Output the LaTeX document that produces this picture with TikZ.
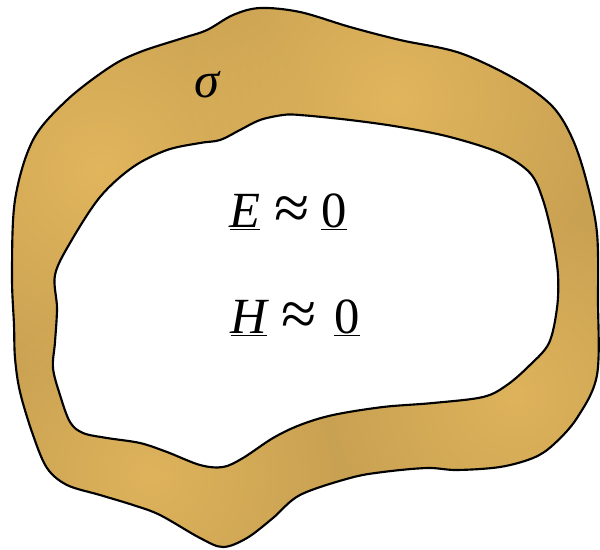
\documentclass[tikz,border=0pt]{standalone}
\usepackage{fontspec}
\setmainfont{Liberation Serif}
\usetikzlibrary{fadings}
\definecolor{ringbase}{RGB}{201,161,82}
\definecolor{ringlight}{RGB}{229,185,95}
\tikzfading[name=spot, inner color=transparent!0, outer color=transparent!100]
\tikzset{
  ringline/.style={line width=1.6pt, black},
  sym/.style={inner sep=0pt, anchor=base, font=\fontsize{38}{44}\selectfont},
  approxsym/.style={inner sep=0pt, anchor=base, font=\fontsize{48}{54}\selectfont},
}
\begin{document}
\begin{tikzpicture}[x=0.75pt,y=-0.75pt]
\useasboundingbox (0,0) rectangle (600,550);
\def\outerpath{plot[smooth cycle, tension=0.55] coordinates {(12,275) (15,200) (33,140) (67,100) (110,67) (140,52) (183,38) (207,30) (233,15) (260,8) (300,12) (350,27) (400,40) (460,53) (517,80) (553,107) (573,140) (587,183) (597,233) (598,300) (597,375) (577,418) (553,445) (533,458) (500,467) (457,470) (427,468) (383,472) (350,478) (300,495) (273,518) (247,538) (223,547) (200,538) (160,515) (133,505) (100,495) (67,485) (47,468) (33,435) (20,392) (15,358) (14,325)}}
\def\innerpath{plot[smooth cycle, tension=0.55] coordinates {(55,275) (70,243) (100,197) (133,167) (167,150) (200,143) (220,140) (240,130) (260,120) (283,115) (300,115) (350,120) (400,127) (450,137) (500,153) (530,173) (543,200) (553,240) (558,275) (557,308) (549,343) (530,365) (507,385) (483,397) (433,403) (383,407) (333,415) (300,425) (273,438) (243,458) (223,467) (200,465) (167,452) (140,443) (107,438) (83,433) (70,422) (60,395) (53,368) (55,342) (57,308)}}
\fill[ringbase] \outerpath;
\begin{scope}
  \clip \outerpath;
  \fill[ringlight, opacity=0.85, path fading=spot] (100,170) circle (220);
  \fill[ringlight, opacity=0.85, path fading=spot] (395,100) circle (220);
  \fill[ringlight, opacity=0.75, path fading=spot] (150,475) circle (190);
  \fill[ringlight, opacity=0.75, path fading=spot] (515,395) circle (190);
\end{scope}
\draw[ringline] \outerpath;
\fill[white] \innerpath;
\draw[ringline] \innerpath;
\node[sym] (sigma) at (207,97) {\itshape σ};
\node[sym] (E) at (245,227) {\underline{\itshape E}};
\node[approxsym] (approx1) at (292,229) {≈};
\node[sym] (zero1) at (334,227) {\underline{0}};
\node[sym] (H) at (249,333) {\underline{\itshape H}};
\node[approxsym] (approx2) at (299,335) {≈};
\node[sym] (zero2) at (347,333) {\underline{0}};
\end{tikzpicture}
\end{document}
